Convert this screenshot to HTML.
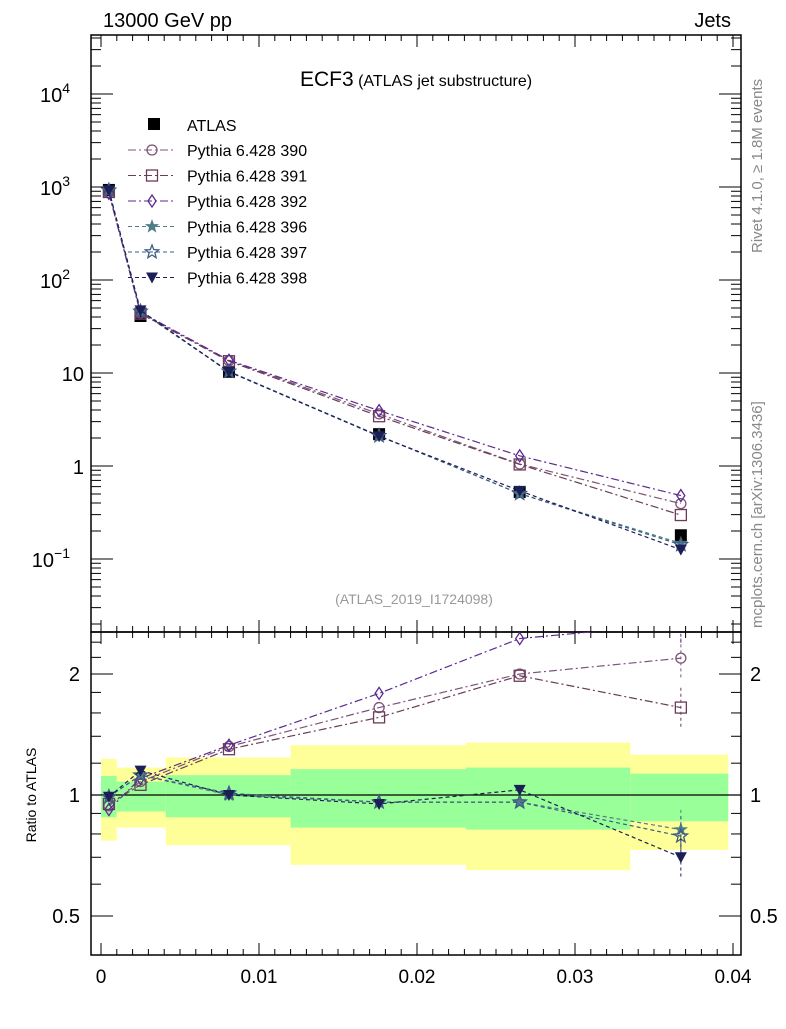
<!DOCTYPE html>
<html><head><meta charset="utf-8"><style>
body{margin:0;background:#fff;font-family:"Liberation Sans",sans-serif}
svg text{font-family:"Liberation Sans",sans-serif}
</style></head><body>
<svg id="c" width="786" height="1024" xmlns="http://www.w3.org/2000/svg"></svg>
<script>
const binEdges=[0,0.001,0.0041,0.012,0.0231,0.0335,0.0397];
const xPoints=[0.0005,0.0025,0.0081,0.0176,0.0265,0.0367];
const atlasValues=[930,41,10.3,2.2,0.525,0.18];
const bandYellowHi=[1.23,1.17,1.24,1.33,1.35,1.26];
const bandYellowLo=[0.77,0.83,0.75,0.67,0.65,0.73];
const bandGreenHi=[1.115,1.08,1.12,1.16,1.17,1.13];
const bandGreenLo=[0.88,0.91,0.88,0.83,0.82,0.86];
const ratio390=[0.94,1.08,1.32,1.65,2.0,2.19];
const ratio391=[0.95,1.06,1.30,1.56,1.98,1.65];
const ratio392=[0.92,1.10,1.33,1.79,2.45,2.67];
const ratio396=[0.99,1.12,1.00,0.96,0.96,0.82];
const ratio397=[0.99,1.12,1.01,0.96,0.96,0.79];
const ratio398=[0.99,1.15,1.00,0.95,1.03,0.70];
const xTicks=[0,0.01,0.02,0.03,0.04];
const xTickLabels=["0","0.01","0.02","0.03","0.04"];

const NS="http://www.w3.org/2000/svg";
const svg=document.getElementById('c');
const L=91,R=741,T=35,MB=632,RB=955;
const X=v=>101+v*15800;
const Y=v=>466-93*Math.log10(v);
const YR=r=>795-121*Math.log2(r);
function el(tag,a,parent){const e=document.createElementNS(NS,tag);for(const k in a)e.setAttribute(k,a[k]);(parent||svg).appendChild(e);return e;}
function txt(s,a,parent){const e=el('text',a,parent);e.textContent=s;return e;}

// clip paths
const defs=el('defs',{});
const cp1=el('clipPath',{id:'cm'},defs);el('rect',{x:L,y:T,width:R-L,height:MB-T},cp1);
const cp2=el('clipPath',{id:'cr'},defs);el('rect',{x:L,y:MB,width:R-L,height:RB-MB},cp2);

// ratio bands
const bands=el('g',{'clip-path':'url(#cr)'});


for(let i=0;i<6;i++){
  const x0=X(binEdges[i]),x1=X(binEdges[i+1]);
  const y=el('rect',{x:x0,y:YR(bandYellowHi[i]),width:x1-x0,height:YR(bandYellowLo[i])-YR(bandYellowHi[i]),fill:'#ffff99'},bands);
  
  
  const g=el('rect',{x:x0,y:YR(bandGreenHi[i]),width:x1-x0,height:YR(bandGreenLo[i])-YR(bandGreenHi[i]),fill:'#99ff99'},bands);
  
  
}
el('line',{x1:L,x2:R,y1:YR(1),y2:YR(1),stroke:'#000','stroke-width':1.2},bands);

// frames
const f1=el('rect',{x:L,y:T,width:R-L,height:MB-T,fill:'none',stroke:'#000','stroke-width':1.5});

const f2=el('rect',{x:L,y:MB,width:R-L,height:RB-MB,fill:'none',stroke:'#000','stroke-width':1.5});


// x ticks
for(let p=0;p<=4;p++){
  for(let k=0;k<10;k++){
    const v=p*0.01+k*0.001; if(v>0.0405)break;
    const x=X(v), len=k===0?12:6;
    [[T,T+len],[MB,MB-len],[MB,MB+len],[RB,RB-len]].forEach(s=>el('line',{x1:x,x2:x,y1:s[0],y2:s[1],stroke:'#000'}));
  }
}
xTicks.forEach((v,i)=>{const t=txt(xTickLabels[i],{x:X(v),y:983,'font-size':19,'text-anchor':'middle'});
});

// main y log ticks
for(let d=-2;d<=4;d++){
  for(let m=1;m<10;m++){
    const v=m*Math.pow(10,d);const y=Y(v);if(y<T||y>MB)continue;
    const len=m===1?22:10;
    el('line',{x1:L,x2:L+len,y1:y,y2:y,stroke:'#000'});
    el('line',{x1:R,x2:R-len,y1:y,y2:y,stroke:'#000'});
  }
}
const yLab=[[-1,'10','−1'],[0,'1',''],[1,'10',''],[2,'10','2'],[3,'10','3'],[4,'10','4']];
yLab.forEach(a=>{const y=Y(Math.pow(10,a[0]));
  const t=el('text',{x:a[2]?70:84,y:y+8,'font-size':20,'text-anchor':'end'});
  
  t.textContent=a[1];
  if(a[2]){const s=el('tspan',{dy:-9,'font-size':14},t);s.textContent=a[2];}
});

// ratio y ticks
[0.5,0.6,0.7,0.8,0.9,1,1.2,1.4,1.6,1.8,2,2.2,2.4].forEach(v=>{
  const y=YR(v);const len=(v===0.5||v===1||v===2)?22:10;
  el('line',{x1:L,x2:L+len,y1:y,y2:y,stroke:'#000'});
  el('line',{x1:R,x2:R-len,y1:y,y2:y,stroke:'#000'});
});
[[0.5,'0.5'],[1,'1'],[2,'2']].forEach(a=>{
  const t1=txt(a[1],{x:80,y:YR(a[0])+7,'font-size':20,'text-anchor':'end'});
  
  const t2=txt(a[1],{x:750,y:YR(a[0])+7,'font-size':20});
  
});

// series
const series=[
 {name:'390',r:ratio390,c:'#7d5478',m:'circle',dash:'8,3,2,3'},
 {name:'391',r:ratio391,c:'#6b3c58',m:'square',dash:'8,3,2,3'},
 {name:'392',r:ratio392,c:'#5b2a90',m:'diamond',dash:'8,3,2,3'},
 {name:'396',r:ratio396,c:'#4f7d88',m:'star',dash:'4,3'},
 {name:'397',r:ratio397,c:'#3e5c84',m:'ostar',dash:'4,3'},
 {name:'398',r:ratio398,c:'#1c1f55',m:'tri',dash:'4,3'}];
function starPts(cx,cy,ro,ri){let p=[];for(let i=0;i<10;i++){const a=-Math.PI/2+i*Math.PI/5,r=i%2?ri:ro;p.push((cx+r*Math.cos(a)).toFixed(1)+','+(cy+r*Math.sin(a)).toFixed(1));}return p.join(' ');}
function marker(g,m,x,y,c){
  if(m==='circle')return el('circle',{cx:x,cy:y,r:5,fill:'none',stroke:c,'stroke-width':1.3},g);
  if(m==='square')return el('rect',{x:x-5.5,y:y-5.5,width:11,height:11,fill:'none',stroke:c,'stroke-width':1.3},g);
  if(m==='diamond')return el('polygon',{points:`${x},${y-6} ${x+4},${y} ${x},${y+6} ${x-4},${y}`,fill:'none',stroke:c,'stroke-width':1.3},g);
  if(m==='star')return el('polygon',{points:starPts(x,y,6,2.5),fill:c,stroke:c},g);
  if(m==='ostar')return el('polygon',{points:starPts(x,y,7,3),fill:'none',stroke:c,'stroke-width':1.3},g);
  if(m==='tri')return el('polygon',{points:`${x-6},${y-5} ${x+6},${y-5} ${x},${y+6}`,fill:c},g);
  if(m==='sq')return el('rect',{x:x-6,y:y-6,width:12,height:12,fill:c},g);
}
const gm=el('g',{'clip-path':'url(#cm)'});
const gr=el('g',{'clip-path':'url(#cr)'});
// ATLAS data main
atlasValues.forEach((v,i)=>{const m=marker(gm,'sq',X(xPoints[i]),Y(v),'#000');
});
series.forEach(s=>{
  const mainPts=s.r.map((r,i)=>X(xPoints[i])+','+Y(r*atlasValues[i])).join(' ');
  const l1=el('polyline',{points:mainPts,fill:'none',stroke:s.c,'stroke-width':1.2,'stroke-dasharray':s.dash},gm);
  
  const ratPts=s.r.map((r,i)=>X(xPoints[i])+','+YR(r)).join(' ');
  const l2=el('polyline',{points:ratPts,fill:'none',stroke:s.c,'stroke-width':1.2,'stroke-dasharray':s.dash},gr);
  
  s.r.forEach((r,i)=>{
    const x=X(xPoints[i]);
    if(i===5){el('line',{x1:x,x2:x,y1:YR(r*1.12),y2:YR(r/1.12),stroke:s.c,'stroke-dasharray':'3,3'},gr);}
    const a=marker(gm,s.m,x,Y(r*atlasValues[i]),s.c);
    
    const b=marker(gr,s.m,x,YR(r),s.c);
    
  });
});

// legend
const lg=el('g',{});

marker(lg,'sq',154,124,'#000');
txt('ATLAS',{x:187,y:131,'font-size':16},lg);
series.forEach((s,i)=>{const y=150+i*25.5;
  el('line',{x1:128,x2:175,y1:y,y2:y,stroke:s.c,'stroke-dasharray':s.dash},lg);
  marker(lg,s.m,152,y,s.c);
  const t=txt('Pythia 6.428 '+s.name,{x:187,y:y+6,'font-size':16},lg);
  
});

// texts
const tt=[
 ['13000 GeV pp',{x:103,y:27,'font-size':20},'energy-label'],
 ['Jets',{x:731,y:27,'font-size':20,'text-anchor':'end'},'process-label'],
 ['(ATLAS_2019_I1724098)',{x:414,y:604,'font-size':14,fill:'#999','text-anchor':'middle'},'analysis-id'],
];
tt.forEach(a=>{const t=txt(a[0],a[1]);});
const title=el('text',{x:416,y:86,'text-anchor':'middle','font-size':21});

title.textContent='ECF3';const ts=el('tspan',{'font-size':16},title);ts.textContent=' (ATLAS jet substructure)';
const yt=txt('Ratio to ATLAS',{x:0,y:0,'font-size':14,transform:'translate(36,795) rotate(-90)','text-anchor':'middle'});

const r1=txt('Rivet 4.1.0, ≥ 1.8M events',{x:0,y:0,'font-size':15,fill:'#888',transform:'translate(762,253) rotate(-90)'});

const r2=txt('mcplots.cern.ch [arXiv:1306.3436]',{x:0,y:0,'font-size':15,fill:'#888',transform:'translate(762,628) rotate(-90)'});

</script>
</body></html>
